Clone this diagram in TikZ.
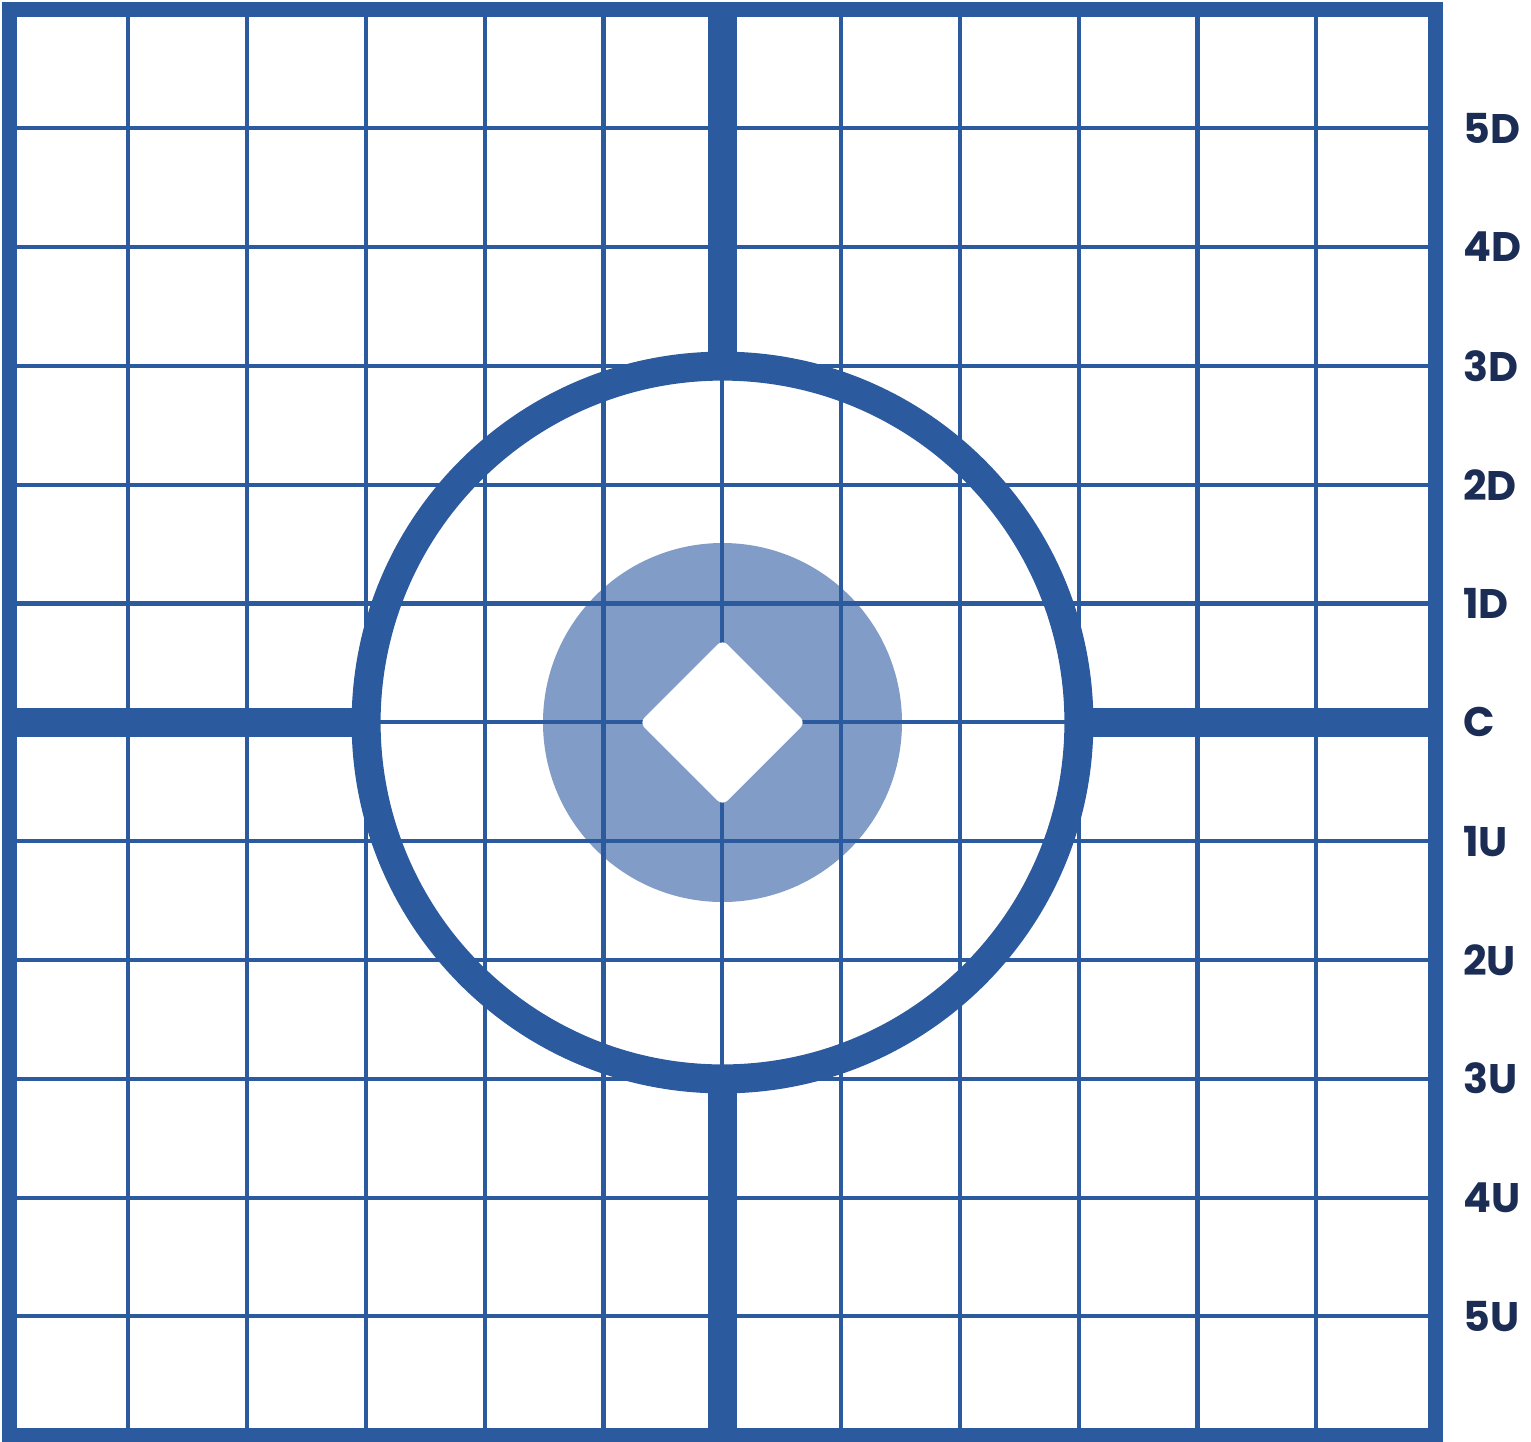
\documentclass[tikz,border=0pt]{standalone}
\usepackage{fontspec}
\setmainfont{Poppins}
\usepackage{xcolor}
\definecolor{targetBlue}{HTML}{2C5A9F}
\definecolor{targetLight}{HTML}{819CC7}
\definecolor{targetNavy}{HTML}{1B2D55}
\usepackage{tikz}

\begin{document}
\begin{tikzpicture}[
		x=0.02cm, y=-0.02cm,
		gridline/.style={draw=targetBlue, line width=2.3pt},
		axisline/.style={draw=targetBlue, line width=16.5pt},
		ring/.style={draw=targetBlue, line width=16.5pt},
		frame/.style={draw=targetBlue, line width=8.5pt},
		rowlabel/.style={
			anchor=west,
			inner sep=0pt,
			text=targetNavy,
			font=\fontsize{23.5}{23.5}\selectfont\bfseries
		}
		]
		\useasboundingbox (0,0) rectangle (1531,1441);
		\coordinate (centre) at (722.5,722.5);
		
		% bullseye
		\fill[targetLight] (centre) circle (179.5);
		
		% grid
		\foreach \k in {1,...,11} {
			\draw[gridline] ({9.5+118.8*\k},9.5) -- ({9.5+118.8*\k},1435.5);
			\draw[gridline] (9.5,{9.5+118.8*\k}) -- (1435.5,{9.5+118.8*\k});
		}
		
		% aim point
		\fill[white, rounded corners=4pt, shift={(centre)}]
			(0,-83) -- (83,0) -- (0,83) -- (-83,0) -- cycle;
		
		% axes and ring
		\draw[axisline] (722.5,9.5) -- (722.5,366.5);
		\draw[axisline] (722.5,1078.5) -- (722.5,1435.5);
		\draw[axisline] (9.5,722.5) -- (366.5,722.5);
		\draw[axisline] (1078.5,722.5) -- (1435.5,722.5);
		\draw[ring] (centre) circle (356.4);
		\draw[frame] (9.5,9.5) rectangle (1435.5,1435.5);
		
		% row labels
		\foreach \lbl [count=\i] in {5D,4D,3D,2D,1D,C,1U,2U,3U,4U,5U}
			\node[rowlabel] (row\i) at (1463,{9.5+118.8*\i}) {\lbl};
		
	\end{tikzpicture}
\end{document}
